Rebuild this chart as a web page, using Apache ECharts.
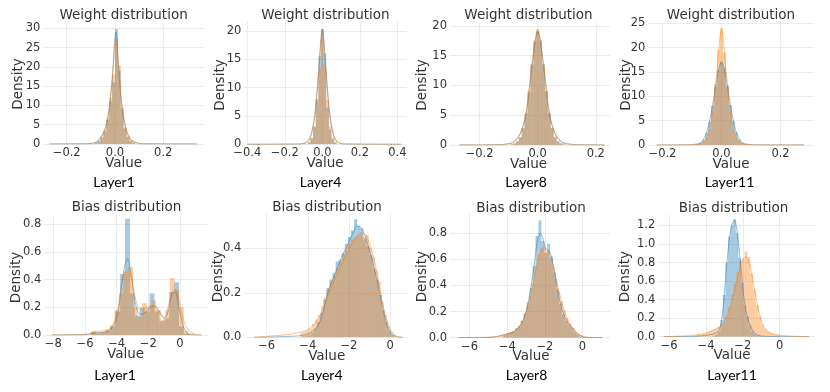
<!DOCTYPE html>
<html lang="en">
<head>
<meta charset="UTF-8" />
<title>Weight and bias distributions</title>
<script src="https://cdn.jsdelivr.net/npm/echarts@6/dist/echarts.min.js"></script>
<style>
  html, body { margin: 0; padding: 0; background: #fff; }
  #main { width: 830px; height: 392px; }
</style>
</head>
<body>
<div id="main"></div>
<script>
// panel captions / titles
var titles = ["Weight distribution", "Weight distribution", "Weight distribution", "Weight distribution",
  "Bias distribution", "Bias distribution", "Bias distribution", "Bias distribution"];
var captions = ["Layer1", "Layer4", "Layer8", "Layer11", "Layer1", "Layer4", "Layer8", "Layer11"];

// tick labels
var xTicks = [[-0.2, 0, 0.2], [-0.4, -0.2, 0, 0.2, 0.4], [-0.2, 0, 0.2], [-0.2, 0, 0.2],
  [-8, -6, -4, -2, 0], [-6, -4, -2, 0], [-6, -4, -2, 0], [-6, -4, -2, 0]];
var yTicks = [[0, 5, 10, 15, 20, 25, 30], [0, 5, 10, 15, 20], [0, 5, 10, 15, 20], [0, 5, 10, 15, 20, 25],
  [0, 0.2, 0.4, 0.6, 0.8], [0, 0.2, 0.4], [0, 0.2, 0.4, 0.6, 0.8], [0, 0.2, 0.4, 0.6, 0.8, 1.0, 1.2]];

// histogram bins: first edge and bin width per panel
var binStartBlue = [-0.084, -0.077, -0.095, -0.095, -5.64, -4.3, -4.2, -3.64];
var binWidthBlue = [0.012, 0.014, 0.01, 0.01, 0.31, 0.15, 0.155, 0.14];
var binStartOrange = [-0.084, -0.077, -0.095, -0.095, -5.596, -4.37, -4.5, -4.6];
var binWidthOrange = [0.012, 0.014, 0.01, 0.01, 0.292, 0.145, 0.15, 0.15];

// histogram densities
var w1Blue = [0.3, 0.7, 1.6, 3.2, 6.2, 11, 16, 29.8, 19, 9, 4, 1.8, 0.8, 0.3];
var w1Orange = [0.3, 0.8, 1.8, 3.6, 6.8, 12, 18, 27.5, 20.5, 9.5, 4.3, 2, 0.9, 0.3];
var w4Blue = [0.3, 1.0, 3.0, 8, 15.5, 20.3, 16, 6.5, 2.6, 0.9, 0.3];
var w4Orange = [0.4, 1.2, 3.2, 7.5, 13.5, 19.5, 14, 7.8, 3.2, 1.2, 0.4];
var w8Blue = [0.1, 0.25, 0.6, 1.3, 2.8, 5.2, 8.8, 13.4, 17.3, 19.1, 17.6, 13.6, 9.1, 5.4, 2.8, 1.3, 0.6, 0.25, 0.1];
var w8Orange = [0.12, 0.28, 0.65, 1.35, 2.9, 5.4, 9.1, 13.6, 17.6, 19.5, 17.4, 13.3, 8.9, 5.3, 2.9, 1.4, 0.65, 0.28, 0.12];
var w11Blue = [0.07, 0.18, 0.45, 1.1, 2.5, 4.8, 8, 12, 15.5, 17.1, 15.8, 12.2, 8.2, 4.9, 2.6, 1.15, 0.47, 0.18, 0.07];
var w11Orange = [0.05, 0.12, 0.3, 0.7, 1.5, 3.3, 7, 12.5, 19.5, 24, 19, 12, 6.8, 3.2, 1.5, 0.7, 0.3, 0.12, 0.05];
var b1Blue = [0.02, 0.01, 0.02, 0.03, 0.06, 0.17, 0.44, 0.84, 0.30, 0.14, 0.20, 0.17, 0.30, 0.17, 0.10, 0.12, 0.31, 0.38, 0.06, 0.01, 0.0];
var b1Orange = [0.03, 0.02, 0.02, 0.04, 0.07, 0.18, 0.30, 0.46, 0.49, 0.20, 0.13, 0.23, 0.20, 0.25, 0.18, 0.11, 0.18, 0.41, 0.33, 0.20, 0.03, 0.01];
var b4Blue = [0.005, 0.008, 0.012, 0.02, 0.04, 0.07, 0.11, 0.17, 0.22, 0.26, 0.29, 0.34, 0.35, 0.38, 0.42,
  0.45, 0.48, 0.53, 0.50, 0.49, 0.44, 0.41, 0.37, 0.31, 0.26, 0.19, 0.12, 0.07, 0.03, 0.01];
var b4Orange = [0.02, 0.025, 0.03, 0.04, 0.06, 0.08, 0.10, 0.14, 0.18, 0.22, 0.25, 0.28, 0.31, 0.34, 0.37, 0.39,
  0.42, 0.44, 0.45, 0.46, 0.47, 0.45, 0.46, 0.40, 0.36, 0.30, 0.25, 0.16, 0.10, 0.05, 0.02, 0.008];
var b8Blue = [0.02, 0.03, 0.04, 0.05, 0.07, 0.09, 0.13, 0.19, 0.27, 0.38, 0.55, 0.78, 0.90, 0.74, 0.65, 0.72,
  0.62, 0.50, 0.37, 0.26, 0.18, 0.13, 0.10, 0.08, 0.05, 0.025, 0.01, 0.004];
var b8Orange = [0.01, 0.015, 0.02, 0.03, 0.04, 0.05, 0.07, 0.09, 0.13, 0.18, 0.24, 0.32, 0.42, 0.55, 0.64, 0.69,
  0.70, 0.66, 0.60, 0.54, 0.45, 0.35, 0.28, 0.21, 0.15, 0.11, 0.07, 0.045, 0.025, 0.012, 0.005];
var b11Blue = [0.01, 0.025, 0.06, 0.18, 0.45, 0.80, 1.08, 1.20, 1.27, 1.12, 0.85, 0.58, 0.34, 0.22, 0.12, 0.06, 0.03, 0.015, 0.008, 0.004];
var b11Orange = [0.015, 0.02, 0.025, 0.03, 0.045, 0.06, 0.07, 0.08, 0.1, 0.12, 0.15, 0.22, 0.32, 0.45, 0.58, 0.70,
  0.82, 0.84, 0.92, 0.86, 0.68, 0.50, 0.34, 0.22, 0.13, 0.08, 0.055, 0.04, 0.03, 0.02, 0.015];

// kde curves (x grid, blue, orange)
var w1KdeX = [-0.27, -0.12, -0.08, -0.06, -0.04, -0.025, -0.012, 0.004, 0.016, 0.03, 0.045, 0.06, 0.08, 0.12, 0.34];
var w1KdeBlue = [0, 0.05, 0.4, 1.5, 4, 8.5, 16, 29, 19, 9, 4, 1.6, 0.5, 0.05, 0];
var w1KdeOrange = [0, 0.06, 0.5, 1.7, 4.3, 9, 17, 27, 19.5, 9.5, 4.3, 1.8, 0.6, 0.06, 0];
var w4KdeX = [-0.40, -0.12, -0.08, -0.06, -0.04, -0.02, 0, 0.02, 0.04, 0.06, 0.08, 0.12, 0.42];
var w4KdeBlue = [0, 0.05, 0.4, 1.6, 5, 12.5, 20.3, 12.5, 5, 1.6, 0.4, 0.05, 0];
var w4KdeOrange = [0, 0.06, 0.5, 1.8, 5.3, 12.5, 19.8, 12.8, 5.4, 1.8, 0.5, 0.06, 0];
var w8KdeX = [-0.27, -0.15, -0.1, -0.08, -0.06, -0.04, -0.02, 0, 0.02, 0.04, 0.06, 0.08, 0.1, 0.15, 0.23];
var w8KdeBlue = [0, 0.03, 0.2, 0.6, 1.9, 5.2, 13.2, 19, 13.4, 5.2, 1.9, 0.6, 0.2, 0.03, 0];
var w8KdeOrange = [0, 0.04, 0.22, 0.65, 2, 5.4, 13.5, 19.3, 13.6, 5.4, 2, 0.6, 0.2, 0.03, 0];
var w11KdeX = [-0.22, -0.12, -0.09, -0.07, -0.05, -0.03, -0.015, 0, 0.015, 0.03, 0.05, 0.07, 0.09, 0.12, 0.28];
var w11KdeBlue = [0, 0.03, 0.15, 0.5, 2.6, 8.2, 13.8, 17, 13.8, 8.2, 2.6, 0.5, 0.15, 0.03, 0];
var w11KdeOrange = [0, 0.02, 0.1, 0.3, 1.5, 6.8, 15.5, 23.5, 15.5, 6.8, 1.5, 0.3, 0.1, 0.02, 0];
var b1KdeX = [-8.1, -6, -5.3, -4.5, -4.0, -3.7, -3.45, -3.3, -3.1, -2.8, -2.5, -2.2, -1.9, -1.6, -1.3, -1.0, -0.8, -0.5, -0.3, -0.1, 0.2, 0.5, 0.9, 1.35];
var b1KdeBlue = [0, 0.003, 0.015, 0.03, 0.12, 0.35, 0.52, 0.55, 0.45, 0.22, 0.15, 0.16, 0.2, 0.21, 0.17, 0.12, 0.15, 0.3, 0.31, 0.22, 0.07, 0.01, 0.001, 0];
var b1KdeOrange = [0, 0.005, 0.025, 0.04, 0.15, 0.36, 0.46, 0.48, 0.43, 0.26, 0.18, 0.19, 0.21, 0.2, 0.16, 0.13, 0.18, 0.31, 0.33, 0.27, 0.12, 0.04, 0.008, 0];
var b4KdeX = [-6.6, -5.5, -5.0, -4.5, -4.0, -3.6, -3.3, -3.0, -2.7, -2.4, -2.1, -1.8, -1.6, -1.4, -1.2, -1.0, -0.8, -0.6, -0.4, -0.2, 0.0, 0.3, 0.6];
var b4KdeBlue = [0, 0.002, 0.004, 0.006, 0.015, 0.04, 0.1, 0.21, 0.28, 0.35, 0.41, 0.47, 0.50, 0.49, 0.45, 0.39, 0.32, 0.24, 0.15, 0.07, 0.025, 0.003, 0];
var b4KdeOrange = [0, 0.008, 0.012, 0.02, 0.035, 0.07, 0.12, 0.19, 0.26, 0.32, 0.38, 0.43, 0.45, 0.47, 0.46, 0.42, 0.36, 0.27, 0.17, 0.09, 0.04, 0.006, 0];
var b8KdeX = [-6.6, -5.0, -4.5, -4.0, -3.6, -3.2, -2.9, -2.6, -2.4, -2.25, -2.1, -1.95, -1.75, -1.55, -1.35, -1.15, -0.95, -0.75, -0.5, -0.25, 0.1, 0.5, 1.05];
var b8KdeBlue = [0, 0.002, 0.01, 0.03, 0.05, 0.12, 0.26, 0.52, 0.74, 0.80, 0.76, 0.68, 0.66, 0.55, 0.38, 0.25, 0.16, 0.11, 0.07, 0.03, 0.005, 0.001, 0];
var b8KdeOrange = [0, 0.004, 0.012, 0.03, 0.05, 0.12, 0.24, 0.42, 0.57, 0.64, 0.68, 0.68, 0.63, 0.55, 0.42, 0.30, 0.2, 0.13, 0.07, 0.03, 0.008, 0.002, 0];
var b11KdeX = [-6.3, -5.0, -4.5, -4.0, -3.6, -3.3, -3.1, -2.9, -2.75, -2.6, -2.45, -2.3, -2.15, -2.0, -1.85, -1.7, -1.55, -1.4, -1.25, -1.1, -0.9, -0.6, -0.3, 0.2, 0.8, 1.6];
var b11KdeBlue = [0, 0.002, 0.005, 0.015, 0.03, 0.07, 0.25, 0.72, 1.02, 1.2, 1.25, 1.12, 0.84, 0.53, 0.3, 0.18, 0.1, 0.05, 0.025, 0.012, 0.006, 0.002, 0.001, 0, 0, 0];
var b11KdeOrange = [0, 0.01, 0.02, 0.04, 0.07, 0.1, 0.13, 0.2, 0.28, 0.38, 0.5, 0.62, 0.74, 0.83, 0.86, 0.82, 0.71, 0.55, 0.39, 0.25, 0.12, 0.05, 0.025, 0.012, 0.005, 0];

var hists = [[w1Blue, w1Orange], [w4Blue, w4Orange], [w8Blue, w8Orange], [w11Blue, w11Orange],
  [b1Blue, b1Orange], [b4Blue, b4Orange], [b8Blue, b8Orange], [b11Blue, b11Orange]];
var kdes = [[w1KdeX, w1KdeBlue, w1KdeOrange], [w4KdeX, w4KdeBlue, w4KdeOrange], [w8KdeX, w8KdeBlue, w8KdeOrange],
  [w11KdeX, w11KdeBlue, w11KdeOrange], [b1KdeX, b1KdeBlue, b1KdeOrange], [b4KdeX, b4KdeBlue, b4KdeOrange],
  [b8KdeX, b8KdeBlue, b8KdeOrange], [b11KdeX, b11KdeBlue, b11KdeOrange]];

// layout: plot box [left, top, width, height] and axis range [xmin, xmax, ymax]
var boxes = [[43.3, 23.3, 160.7, 120.7], [244.3, 21.7, 162.4, 122.6], [450, 22.7, 160, 122.3], [648.3, 21.7, 165, 123.3],
  [44.3, 215, 164, 120], [244.3, 213.3, 164.7, 124], [450, 213.3, 160, 124.4], [658.3, 214.3, 156.7, 122.4]];
var ranges = [[-0.297, 0.369, 31.3], [-0.416, 0.45, 21.6], [-0.302, 0.249, 20.55], [-0.248, 0.311, 25.3],
  [-8.57, 1.79, 0.867], [-7.09, 0.92, 0.557], [-7.04, 1.46, 0.953], [-6.59, 1.92, 1.32]];
var titlePos = [[123.6, 15], [325.5, 15], [528.5, 15], [731, 15], [126.5, 207], [327, 207.5], [531, 208], [733.5, 208]];
var captionPos = [[114, 182], [320.5, 182.5], [526, 182.5], [729.5, 182], [115, 375], [321.7, 375], [526.5, 375], [732, 375]];
var xNamePos = [[123.6, 163], [325, 163.5], [528.5, 164.5], [731, 164], [125.5, 354.5], [326.7, 356], [531, 356], [732, 355.5]];
var yNamePos = [[18.2, 84], [220, 85], [422.7, 85], [626, 85], [16.7, 277.5], [218.3, 276.7], [422.7, 276.7], [625, 276.7]];
var xDec = [1, 1, 1, 1, 0, 0, 0, 0];
var yDec = [0, 0, 0, 0, 1, 1, 1, 1];

var BLUE = "#1f77b4", ORANGE = "#ff7f0e", TXT = "#333333", FONT = "DejaVu Sans";

function fmt(v, d) {
  return v.toFixed(d).replace("-", "\u2212");
}

function histSeries(i, heights, start, width, color) {
  var data = heights.map(function (h, k) {
    var x0 = start + k * width;
    return [x0, x0 + width, h];
  });
  return {
    type: "custom",
    xAxisIndex: i,
    yAxisIndex: i,
    clip: true,
    encode: { x: [0, 1], y: 2 },
    data: data,
    renderItem: function (params, api) {
      var p0 = api.coord([api.value(0), api.value(2)]);
      var p1 = api.coord([api.value(1), 0]);
      return {
        type: "rect",
        shape: { x: p0[0], y: p0[1], width: p1[0] - p0[0], height: p1[1] - p0[1] },
        style: { fill: color, opacity: 0.4 }
      };
    }
  };
}

function kdeSeries(i, xs, ys, color) {
  return {
    type: "line",
    xAxisIndex: i,
    yAxisIndex: i,
    showSymbol: false,
    smooth: 0.35,
    clip: true,
    data: xs.map(function (x, k) { return [x, ys[k]]; }),
    lineStyle: { color: color, width: 0.9, opacity: 0.55 }
  };
}

function label(text, pos, font, fill, rot) {
  return {
    type: "text", x: pos[0], y: pos[1], rotation: rot || 0,
    style: { text: text, align: "center", verticalAlign: "middle", fill: fill, font: font }
  };
}

var grids = [], xAxes = [], yAxes = [], series = [], graphics = [];
for (var i = 0; i < 8; i++) {
  var b = boxes[i], r = ranges[i];
  grids.push({ left: b[0], top: b[1], width: b[2], height: b[3] });
  (function (i) {
    xAxes.push({
      gridIndex: i, type: "value", min: r[0], max: r[1],
      axisLine: { show: false },
      axisTick: { show: false, customValues: xTicks[i] },
      axisLabel: {
        customValues: xTicks[i], margin: 3, fontSize: 11.5, color: TXT, fontFamily: FONT,
        formatter: function (v) { return fmt(v, xDec[i]); }
      },
      splitLine: { show: true, lineStyle: { color: "#ebebeb", width: 1 } }
    });
    yAxes.push({
      gridIndex: i, type: "value", min: 0, max: r[2],
      axisLine: { show: false },
      axisTick: { show: false, customValues: yTicks[i] },
      axisLabel: {
        customValues: yTicks[i], margin: 3, fontSize: 11.5, color: TXT, fontFamily: FONT,
        formatter: function (v) { return fmt(v, yDec[i]); }
      },
      splitLine: { show: true, lineStyle: { color: "#ebebeb", width: 1 } }
    });
  })(i);
  series.push(histSeries(i, hists[i][0], binStartBlue[i], binWidthBlue[i], BLUE));
  series.push(kdeSeries(i, kdes[i][0], kdes[i][1], BLUE));
  series.push(histSeries(i, hists[i][1], binStartOrange[i], binWidthOrange[i], ORANGE));
  series.push(kdeSeries(i, kdes[i][0], kdes[i][2], ORANGE));

  graphics.push(label(titles[i], titlePos[i], "13.5px 'DejaVu Sans'", TXT));
  graphics.push(label("Value", xNamePos[i], "13.5px 'DejaVu Sans'", TXT));
  graphics.push(label("Density", yNamePos[i], "13.5px 'DejaVu Sans'", TXT, Math.PI / 2));
  graphics.push(label(captions[i], captionPos[i], "14px Lato", "#000"));
}

var myChart = echarts.init(document.getElementById("main"));
myChart.setOption({
  animation: false,
  backgroundColor: "#fff",
  grid: grids,
  xAxis: xAxes,
  yAxis: yAxes,
  series: series,
  graphic: graphics
});
</script>
</body>
</html>
